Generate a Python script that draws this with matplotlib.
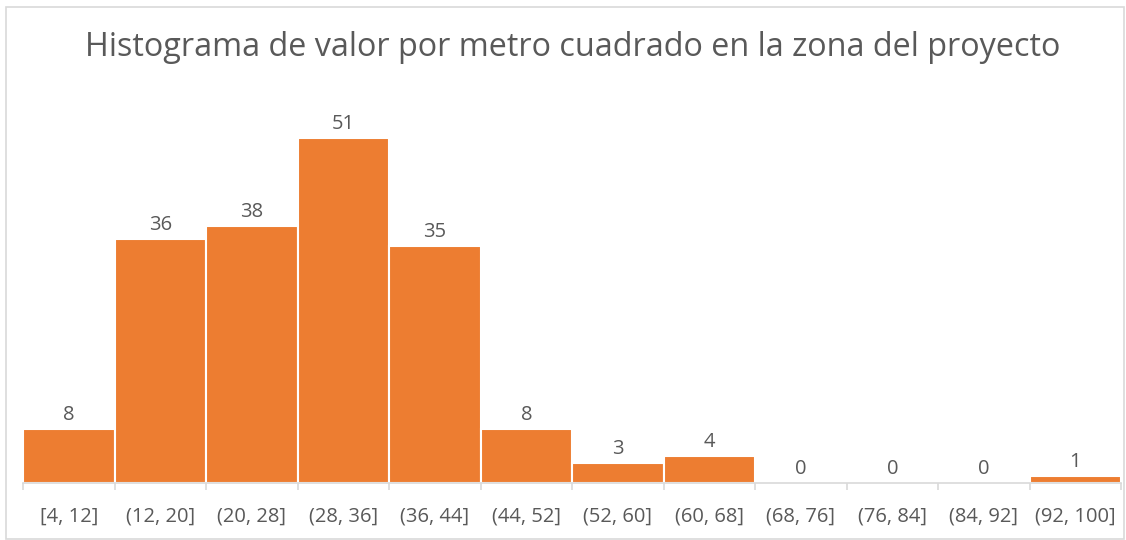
import matplotlib
matplotlib.use("Agg")
import matplotlib.pyplot as plt
from matplotlib.patches import Rectangle

categories = ["[4, 12]", "(12, 20]", "(20, 28]", "(28, 36]", "(36, 44]", "(44, 52]",
              "(52, 60]", "(60, 68]", "(68, 76]", "(76, 84]", "(84, 92]", "(92, 100]"]
counts = [8, 36, 38, 51, 35, 8, 3, 4, 0, 0, 0, 1]
title = "Histograma de valor por metro cuadrado en la zona del proyecto"

plt.rcParams['font.family'] = ['Open Sans', 'DejaVu Sans']
W, H = 1126, 540
fig = plt.figure(figsize=(W / 100, H / 100), dpi=100)
fig.patches.append(Rectangle((6 / W, 1 / H), (W - 8) / W, (H - 8) / H, transform=fig.transFigure,
                             fill=False, edgecolor="#D9D9D9", linewidth=1.2))

ax = fig.add_axes([23 / W, 57 / H, (1121 - 23) / W, (483 - 100) / H])
x = list(range(len(categories)))
ax.bar(x, counts, width=1.0, color="#ED7D31", edgecolor="white", linewidth=1.5)
ax.set_xlim(-0.5, len(categories) - 0.5)
ax.set_ylim(0, (483 - 100) / ((483 - 138) / 51))

for xi, c in zip(x, counts):
    ax.text(xi, c + 0.6, str(c), ha="center", va="bottom", fontsize=14.5, color="#595959")

for s in ["top", "right", "left"]:
    ax.spines[s].set_visible(False)
ax.spines["bottom"].set_color("#D9D9D9")
ax.spines["bottom"].set_linewidth(1.2)
ax.set_yticks([])
ax.set_xticks([i - 0.5 for i in range(len(categories) + 1)], minor=False)
ax.set_xticklabels([])
ax.tick_params(axis="x", which="major", length=5, color="#D9D9D9", width=1.2)
ax.set_xticks(x, minor=True)
ax.set_xticklabels(categories, minor=True)
ax.tick_params(axis="x", which="minor", length=0, pad=17, labelsize=14.5, labelcolor="#595959")

fig.text(573 / W, 1 - 47 / H, title, ha="center", va="center", fontsize=23.3, color="#595959")

fig.savefig("out.png", dpi=100)
